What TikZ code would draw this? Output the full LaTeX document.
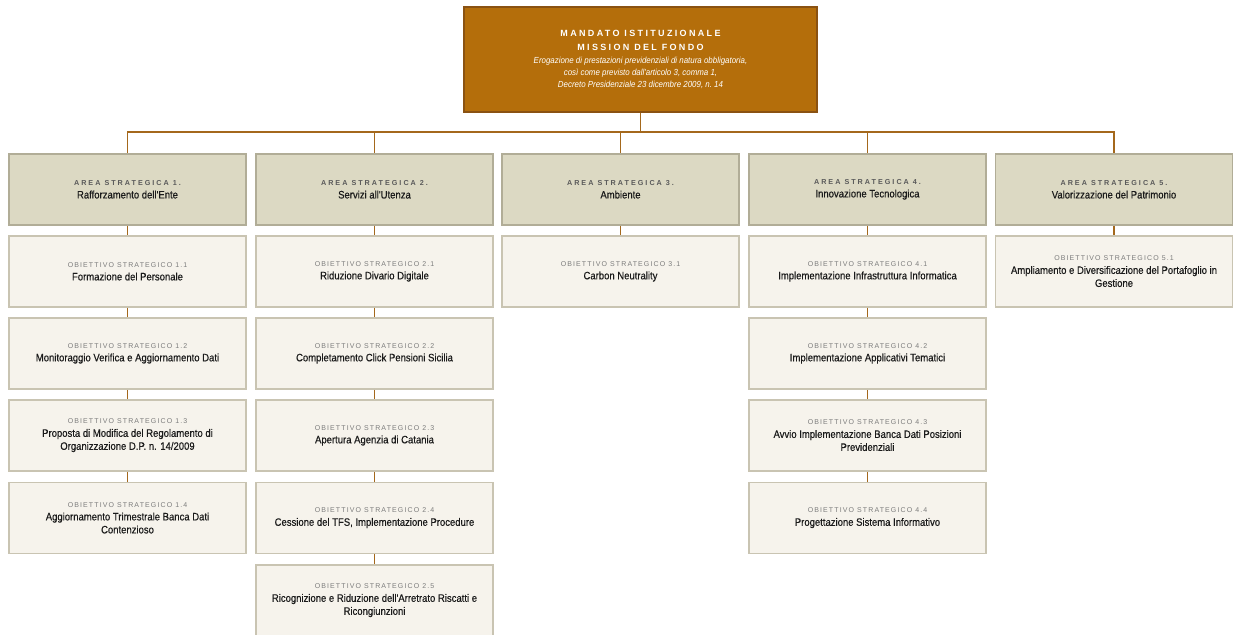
\documentclass[tikz,border=0pt]{standalone}
\usepackage{fontspec}
\setmainfont{Liberation Sans}
\newfontfamily\titlefont[FakeStretch=0.88,FakeBold=0.4]{Liberation Sans}
\newfontfamily\italfont[FakeStretch=0.9]{Liberation Sans}
\newfontfamily\arealabfont[LetterSpace=28]{Liberation Sans}
\newfontfamily\objlabfont[LetterSpace=16]{Liberation Sans}
\newfontfamily\mandfont[LetterSpace=26]{Liberation Sans}
\definecolor{topfill}{HTML}{B46E0B}
\definecolor{topborder}{HTML}{8A5212}
\definecolor{areafill}{HTML}{DCD9C3}
\definecolor{areaborder}{HTML}{B1AD97}
\definecolor{objfill}{HTML}{F6F3EC}
\definecolor{objborder}{HTML}{C9C4B2}
\definecolor{conncol}{HTML}{A4681C}
\definecolor{arealabcol}{HTML}{5A5A5A}
\definecolor{objlabcol}{HTML}{7C7C7C}
\definecolor{titlecol}{HTML}{1A1A1A}
\newcommand\arealab[1]{{\arealabfont\bfseries\fontsize{7.2}{13}\selectfont\color{arealabcol}#1}}
\newcommand\objlab[1]{{\objlabfont\fontsize{7}{13}\selectfont\color{objlabcol}#1}}
\begin{document}
\begin{tikzpicture}[x=1pt,y=-1pt,
  topbox/.style={draw=topborder, line width=2pt, fill=topfill, minimum width=353pt, minimum height=104pt, text=white, align=center, inner sep=0pt},
  areabox/.style={draw=areaborder, line width=1.8pt, fill=areafill, minimum width=237pt, minimum height=71pt, align=center, inner sep=0pt, text=titlecol, font=\titlefont\fontsize{10.8}{13}\selectfont},
  objbox/.style={draw=objborder, line width=1.5pt, fill=objfill, minimum width=237pt, minimum height=71pt, align=center, inner sep=0pt, text=titlecol, font=\titlefont\fontsize{10.8}{13}\selectfont},
  conn/.style={draw=conncol, line width=1.6pt}]
\clip (0,0) rectangle (1233,634);
\fill[white] (0,0) rectangle (1233,634);

\node[topbox] (top) at (640.5,59.5) {{\mandfont\bfseries\fontsize{9}{13}\selectfont MANDATO ISTITUZIONALE}\\[2pt]
{\mandfont\bfseries\fontsize{9}{13}\selectfont MISSION DEL FONDO}\\[1pt]
{\italfont\itshape\fontsize{8.8}{12}\selectfont Erogazione di prestazioni previdenziali di natura obbligatoria,}\\
{\italfont\itshape\fontsize{8.8}{12}\selectfont così come previsto dall'articolo 3, comma 1,}\\
{\italfont\itshape\fontsize{8.8}{12}\selectfont Decreto Presidenziale 23 dicembre 2009, n.\ 14}};

% Areas
\node[areabox] (a1) at (127.5,189.5) {\arealab{AREA STRATEGICA 1.}\\Rafforzamento dell'Ente};
\node[areabox] (a2) at (374.5,189.5) {\arealab{AREA STRATEGICA 2.}\\Servizi all'Utenza};
\node[areabox] (a3) at (620.5,189.5) {\arealab{AREA STRATEGICA 3.}\\Ambiente};
\node[areabox] (a4) at (867.5,189.5) {\arealab{AREA STRATEGICA 4.}\\Innovazione Tecnologica};
\node[areabox] (a5) at (1114,189.5) {\arealab{AREA STRATEGICA 5.}\\Valorizzazione del Patrimonio};

% Column 1
\node[objbox] (o11) at (127.5,271.5) {\objlab{OBIETTIVO STRATEGICO 1.1}\\Formazione del Personale};
\node[objbox] (o12) at (127.5,353.5) {\objlab{OBIETTIVO STRATEGICO 1.2}\\Monitoraggio Verifica e Aggiornamento Dati};
\node[objbox] (o13) at (127.5,435.5) {\objlab{OBIETTIVO STRATEGICO 1.3}\\Proposta di Modifica del Regolamento di\\Organizzazione D.P. n. 14/2009};
\node[objbox] (o14) at (127.5,518) {\objlab{OBIETTIVO STRATEGICO 1.4}\\Aggiornamento Trimestrale Banca Dati\\Contenzioso};

% Column 2
\node[objbox] (o21) at (374.5,271.5) {\objlab{OBIETTIVO STRATEGICO 2.1}\\Riduzione Divario Digitale};
\node[objbox] (o22) at (374.5,353.5) {\objlab{OBIETTIVO STRATEGICO 2.2}\\Completamento Click Pensioni Sicilia};
\node[objbox] (o23) at (374.5,435.5) {\objlab{OBIETTIVO STRATEGICO 2.3}\\Apertura Agenzia di Catania};
\node[objbox] (o24) at (374.5,518) {\objlab{OBIETTIVO STRATEGICO 2.4}\\Cessione del TFS, Implementazione Procedure};
\node[objbox] (o25) at (374.5,600.5) {\objlab{OBIETTIVO STRATEGICO 2.5}\\Ricognizione e Riduzione dell'Arretrato Riscatti e\\Ricongiunzioni};

% Column 3
\node[objbox] (o31) at (620.5,271.5) {\objlab{OBIETTIVO STRATEGICO 3.1}\\Carbon Neutrality};

% Column 4
\node[objbox] (o41) at (867.5,271.5) {\objlab{OBIETTIVO STRATEGICO 4.1}\\Implementazione Infrastruttura Informatica};
\node[objbox] (o42) at (867.5,353.5) {\objlab{OBIETTIVO STRATEGICO 4.2}\\Implementazione Applicativi Tematici};
\node[objbox] (o43) at (867.5,435.5) {\objlab{OBIETTIVO STRATEGICO 4.3}\\Avvio Implementazione Banca Dati Posizioni\\Previdenziali};
\node[objbox] (o44) at (867.5,518) {\objlab{OBIETTIVO STRATEGICO 4.4}\\Progettazione Sistema Informativo};

% Column 5
\node[objbox] (o51) at (1114,271.5) {\objlab{OBIETTIVO STRATEGICO 5.1}\\Ampliamento e Diversificazione del Portafoglio in\\Gestione};

% Connectors
\coordinate (j) at (640.5,132);
\draw[conn] (top.south) -- (j);
\foreach \k in {1,...,5} \draw[conn] (j) -| (a\k.north);
\draw[conn] (a1) -- (o11);
\draw[conn] (o11) -- (o12);
\draw[conn] (o12) -- (o13);
\draw[conn] (o13) -- (o14);
\draw[conn] (a2) -- (o21);
\draw[conn] (o21) -- (o22);
\draw[conn] (o22) -- (o23);
\draw[conn] (o23) -- (o24);
\draw[conn] (o24) -- (o25);
\draw[conn] (a3) -- (o31);
\draw[conn] (a4) -- (o41);
\draw[conn] (o41) -- (o42);
\draw[conn] (o42) -- (o43);
\draw[conn] (o43) -- (o44);
\draw[conn] (a5) -- (o51);
\end{tikzpicture}
\end{document}
